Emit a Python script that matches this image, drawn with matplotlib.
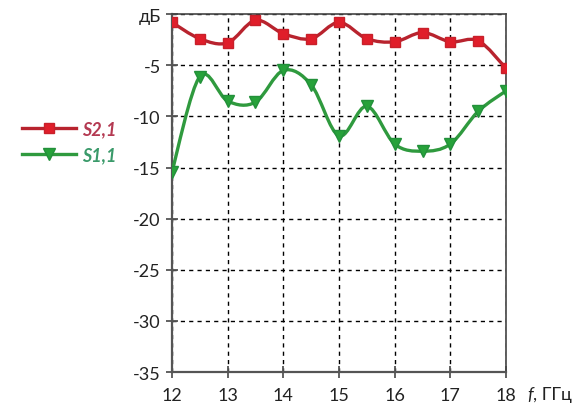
import matplotlib
matplotlib.use("Agg")
import matplotlib.pyplot as plt
import numpy as np
from matplotlib.path import Path
from matplotlib.patches import PathPatch
from matplotlib.lines import Line2D

# frequency points, GHz
freq = [12, 12.5, 13, 13.5, 14, 14.5, 15, 15.5, 16, 16.5, 17, 17.5, 18]
# transmission S2,1, dB
s21 = [-0.8, -2.4, -2.8, -0.6, -1.9, -2.4, -0.8, -2.4, -2.7, -1.8, -2.7, -2.6, -5.3]
# reflection S1,1, dB
s11 = [-15.4, -6.1, -8.5, -8.6, -5.5, -6.9, -11.9, -9.0, -12.7, -13.4, -12.7, -9.5, -7.5]

y_ticks = [-35, -30, -25, -20, -15, -10, -5, 0]
y_labels = ["-35", "-30", "-25", "-20", "-15", "-10", "-5", "дБ"]
x_ticks = [12, 13, 14, 15, 16, 17, 18]

RED_LINE = "#b8232e"
RED_MARK = "#e01e2a"
GREEN_LINE = "#2f9a3e"
GREEN_MARK = "#27a23a"

plt.rcParams["font.family"] = ["Lato", "DejaVu Sans"]


def smooth_path(x, y):
    """Excel-like smoothed line: cubic Bezier through every point."""
    pts = np.column_stack([x, y]).astype(float)
    n = len(pts)
    verts = [pts[0]]
    codes = [Path.MOVETO]
    for i in range(n - 1):
        p0 = pts[i - 1] if i > 0 else pts[i]
        p1 = pts[i]
        p2 = pts[i + 1]
        p3 = pts[i + 2] if i + 2 < n else pts[i + 1]
        c1 = p1 + (p2 - p0) / 6.0
        c2 = p2 - (p3 - p1) / 6.0
        verts += [c1, c2, p2]
        codes += [Path.CURVE4] * 3
    return Path(verts, codes)


fig = plt.figure(figsize=(5.83, 4.10), dpi=100)
ax = fig.add_axes([0.295, 0.090, 0.573, 0.873])

for xs, ys, lc in [(freq, s21, RED_LINE), (freq, s11, GREEN_LINE)]:
    patch = PathPatch(smooth_path(xs, ys), facecolor="none", edgecolor=lc,
                      lw=2.4, zorder=3, capstyle="round", joinstyle="round")
    ax.add_patch(patch)

ax.plot(freq, s21, ls="none", marker="s", ms=7.5, color=RED_MARK,
        mec="#c8202a", zorder=4)
ax.plot(freq, s11, ls="none", marker="v", ms=8.5, color=GREEN_MARK,
        mec="#22903a", zorder=4)

ax.set_xlim(12, 18)
ax.set_ylim(-35, 0)
ax.set_xticks(x_ticks)
ax.set_yticks(y_ticks)
ax.set_yticklabels(y_labels)
ax.tick_params(axis="both", direction="inout", length=8, width=1.3,
               color="#555555", labelsize=13, labelcolor="#222222")
ax.tick_params(axis="x", pad=7)
ax.tick_params(axis="y", pad=4)

ax.grid(True, color="black", ls=(0, (3, 3)), lw=1.0)

for side in ["left", "bottom"]:
    ax.spines[side].set_color("#555555")
    ax.spines[side].set_linewidth(1.6)
for side in ["top", "right"]:
    ax.spines[side].set_color("#444444")
    ax.spines[side].set_linewidth(1.2)

# axis name to the right of the last x tick label
f_txt = ax.annotate("f", xy=(1, 0), xycoords="axes fraction", xytext=(15, -16),
                    textcoords="offset points", fontsize=13, style="italic",
                    ha="left", va="center", color="#222222")
ax.annotate(", ГГц", xy=(1, 0.5), xycoords=f_txt, xytext=(0.5, 0),
            textcoords="offset points", fontsize=13, ha="left", va="center",
            color="#222222")

handles = [
    Line2D([], [], color=RED_LINE, lw=2.4, marker="s", ms=7.5,
           mfc=RED_MARK, mec="#c8202a"),
    Line2D([], [], color=GREEN_LINE, lw=2.4, marker="v", ms=8.5,
           mfc=GREEN_MARK, mec="#22903a"),
]
leg = fig.legend(handles, ["S2,1", "S1,1"], loc="center left",
                 bbox_to_anchor=(0.01, 0.652), frameon=False,
                 handlelength=3.0, handletextpad=0.3, labelspacing=0.5,
                 prop={"style": "italic", "weight": "bold", "size": 13})
leg.get_texts()[0].set_color("#b43a52")
leg.get_texts()[1].set_color("#3a9a6a")

fig.savefig("out.png", dpi=100)
